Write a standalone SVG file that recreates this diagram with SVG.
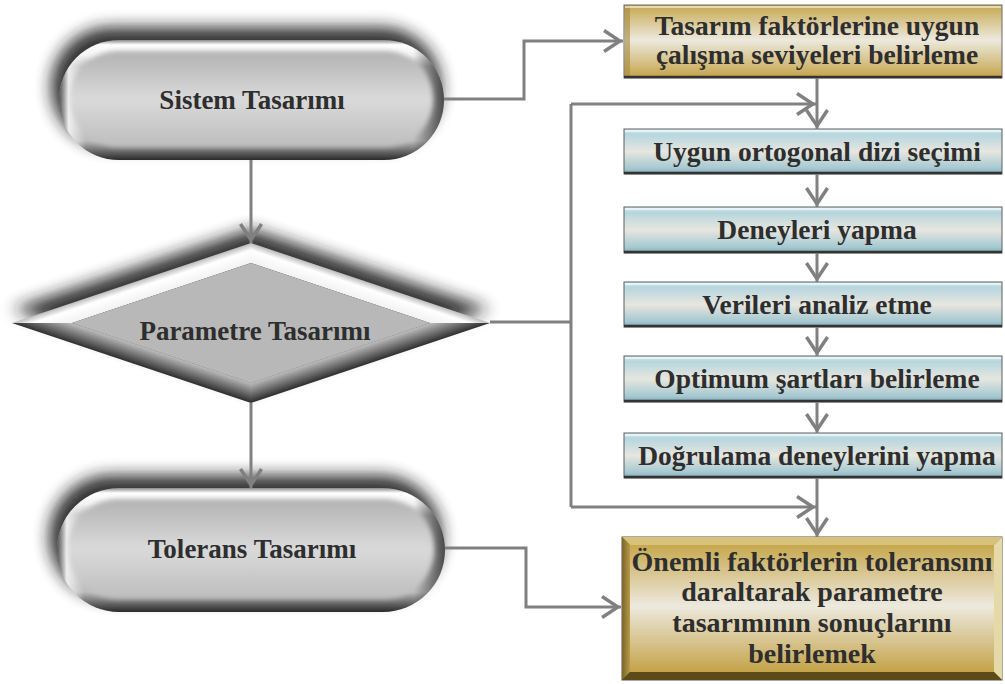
<svg xmlns="http://www.w3.org/2000/svg" width="1005" height="684" viewBox="0 0 1005 684">
<style>
.t{font-family:"Liberation Serif","Times New Roman",serif;font-weight:bold;fill:#2e2e2e;text-anchor:middle}
.c{fill:none;stroke:#808080;stroke-width:3}
.ca{fill:none;stroke:#808080;stroke-width:3;marker-end:url(#ah)}
.blue{fill:url(#blueG);stroke:#5e5e5e;stroke-width:1}
.bb{stroke:#333;stroke-width:2.5}
.hl{fill:#ffffff;opacity:.55}
</style>
<defs>
<marker id="ah" markerUnits="userSpaceOnUse" viewBox="-21 -13 22 26" refX="0" refY="0" markerWidth="22" markerHeight="26" orient="auto">
<path d="M0,0 L-18,-12 L-19.9,-9.1 L-6.25,0 L-19.9,9.1 L-18,12 Z" fill="#808080"/>
</marker>
<filter id="sh" x="-30%" y="-60%" width="160%" height="220%"><feGaussianBlur stdDeviation="8"/></filter>
<filter id="soft" x="-10%" y="-20%" width="120%" height="140%"><feGaussianBlur stdDeviation="2.5"/></filter>
<linearGradient id="pillOuter" x1="0" y1="0" x2="0" y2="1">
<stop offset="0" stop-color="#8a8a8a"/><stop offset=".04" stop-color="#ffffff"/><stop offset=".13" stop-color="#f2f2f2"/><stop offset=".22" stop-color="#bdbdbd"/><stop offset=".55" stop-color="#d4d4d4"/><stop offset=".84" stop-color="#bcbcbc"/><stop offset=".93" stop-color="#666"/><stop offset="1" stop-color="#2a2a2a"/>
</linearGradient>
<linearGradient id="pillEnds" x1="0" y1="0" x2="1" y2="0">
<stop offset="0" stop-color="#000" stop-opacity=".6"/><stop offset=".025" stop-color="#fff" stop-opacity=".7"/><stop offset=".07" stop-color="#fff" stop-opacity="0"/><stop offset=".92" stop-color="#000" stop-opacity="0"/><stop offset="1" stop-color="#000" stop-opacity=".65"/>
</linearGradient>
<linearGradient id="pillInner" x1="0" y1="0" x2="0" y2="1">
<stop offset="0" stop-color="#b2b2b2"/><stop offset=".5" stop-color="#dadada"/><stop offset="1" stop-color="#bdbdbd"/>
</linearGradient>
<linearGradient id="blueG" x1="0" y1="0" x2="0" y2="1">
<stop offset="0" stop-color="#d8ecf1"/><stop offset=".12" stop-color="#b6d6de"/><stop offset=".5" stop-color="#e7e6df"/><stop offset=".88" stop-color="#a4c8d1"/><stop offset="1" stop-color="#7fa6b0"/>
</linearGradient>
<linearGradient id="goldG" x1="0" y1="0" x2="0" y2="1">
<stop offset="0" stop-color="#c7a84f"/><stop offset=".48" stop-color="#ece9de"/><stop offset="1" stop-color="#c4a348"/>
</linearGradient>
<linearGradient id="goldL" x1="0" y1="0" x2="1" y2="0">
<stop offset="0" stop-color="#7a6428"/><stop offset="1" stop-color="#b79b48"/>
</linearGradient>
<linearGradient id="dBR" gradientUnits="userSpaceOnUse" x1="370.5" y1="363" x2="364.5" y2="345">
<stop offset="0" stop-color="#2e2e2e"/><stop offset="1" stop-color="#bdbdbd"/>
</linearGradient>
<linearGradient id="dBL" gradientUnits="userSpaceOnUse" x1="131.5" y1="363" x2="137.5" y2="345">
<stop offset="0" stop-color="#2e2e2e"/><stop offset="1" stop-color="#bdbdbd"/>
</linearGradient>
<linearGradient id="dTL" gradientUnits="userSpaceOnUse" x1="131.5" y1="283" x2="137.5" y2="301">
<stop offset="0" stop-color="#bbbbbb"/><stop offset=".35" stop-color="#ffffff"/><stop offset="1" stop-color="#f2f2f2"/>
</linearGradient>
<linearGradient id="dTR" gradientUnits="userSpaceOnUse" x1="370.5" y1="283" x2="364.5" y2="301">
<stop offset="0" stop-color="#bbbbbb"/><stop offset=".35" stop-color="#ffffff"/><stop offset="1" stop-color="#f2f2f2"/>
</linearGradient>
</defs>

<g id="n-sistem">
<rect x="51" y="27" width="390" height="120" rx="60" fill="#1e1e1e" opacity=".9" filter="url(#sh)"/>
<rect x="59" y="40" width="385" height="120" rx="60" fill="url(#pillOuter)"/>
<rect x="59" y="40" width="385" height="120" rx="60" fill="url(#pillEnds)"/>
<rect x="70" y="51" width="363" height="96" rx="48" fill="url(#pillInner)" filter="url(#soft)"/>
<text class="t" x="252" y="109" font-size="27">Sistem Tasarımı</text>
</g>

<g id="n-parametre">
<polygon points="12,309 251,229 490,309 251,389" fill="#1e1e1e" opacity=".9" filter="url(#sh)"/>
<polygon points="12,323 251,243 251,263 72,323" fill="url(#dTL)"/>
<polygon points="251,243 490,323 430,323 251,263" fill="url(#dTR)"/>
<polygon points="490,323 251,403 251,383 430,323" fill="url(#dBR)"/>
<polygon points="12,323 72,323 251,383 251,403" fill="url(#dBL)"/>
<polygon points="251,263 430,323 251,383 72,323" fill="#b8b8b8"/>
<text class="t" x="255" y="340" font-size="27">Parametre Tasarımı</text>
</g>

<g id="n-tolerans">
<rect x="49" y="475" width="393" height="124" rx="62" fill="#1e1e1e" opacity=".9" filter="url(#sh)"/>
<rect x="57" y="488" width="388" height="124" rx="62" fill="url(#pillOuter)"/>
<rect x="57" y="488" width="388" height="124" rx="62" fill="url(#pillEnds)"/>
<rect x="68" y="499" width="366" height="100" rx="50" fill="url(#pillInner)" filter="url(#soft)"/>
<text class="t" x="252" y="558" font-size="27">Tolerans Tasarımı</text>
</g>

<g id="n-tasarim">
<rect x="624" y="5" width="378" height="73" fill="url(#goldG)" stroke="#6b6b6b" stroke-width="1"/>
<rect x="625" y="6" width="5" height="71" fill="#a68a38" opacity=".6"/>
<rect x="625" y="6" width="376" height="2" class="hl"/>
<line x1="624" y1="77" x2="1002" y2="77" class="bb"/>
<text class="t" x="817" y="35" font-size="27.5">Tasarım faktörlerine uygun</text>
<text class="t" x="817" y="64" font-size="27.5">çalışma seviyeleri belirleme</text>
</g>

<g id="n-uygun">
<rect x="624" y="129" width="378" height="45" class="blue"/>
<rect x="625" y="130" width="376" height="2" class="hl"/>
<line x1="624" y1="173" x2="1002" y2="173" class="bb"/>
<text class="t" x="817" y="161" font-size="27.5">Uygun ortogonal dizi seçimi</text>
</g>

<g id="n-deneyleri">
<rect x="624" y="207" width="378" height="46" class="blue"/>
<rect x="625" y="208" width="376" height="2" class="hl"/>
<line x1="624" y1="252" x2="1002" y2="252" class="bb"/>
<text class="t" x="817" y="239" font-size="27.5">Deneyleri yapma</text>
</g>

<g id="n-verileri">
<rect x="624" y="282" width="378" height="45" class="blue"/>
<rect x="625" y="283" width="376" height="2" class="hl"/>
<line x1="624" y1="326" x2="1002" y2="326" class="bb"/>
<text class="t" x="817" y="314" font-size="27.5">Verileri analiz etme</text>
</g>

<g id="n-optimum">
<rect x="624" y="356" width="378" height="46" class="blue"/>
<rect x="625" y="357" width="376" height="2" class="hl"/>
<line x1="624" y1="401" x2="1002" y2="401" class="bb"/>
<text class="t" x="817" y="388" font-size="27.5">Optimum şartları belirleme</text>
</g>

<g id="n-dogrulama">
<rect x="624" y="433" width="378" height="45" class="blue"/>
<rect x="625" y="434" width="376" height="2" class="hl"/>
<line x1="624" y1="477" x2="1002" y2="477" class="bb"/>
<text class="t" x="817" y="465" font-size="27.5">Doğrulama deneylerini yapma</text>
</g>

<g id="n-onemli">
<rect x="622" y="537" width="380" height="143" fill="#8c7530" stroke="#555" stroke-width="1"/>
<polygon points="622,537 1002,537 994,545 630,545" fill="#d8c27a"/>
<polygon points="622,537 630,545 630,672 622,680" fill="url(#goldL)"/>
<polygon points="1002,537 1002,680 994,672 994,545" fill="#e6d9a8"/>
<polygon points="622,680 630,672 994,672 1002,680" fill="#5c4a18"/>
<rect x="630" y="545" width="364" height="127" fill="url(#goldG)"/>
<text class="t" x="812" y="571" font-size="28">Önemli faktörlerin toleransını</text>
<text class="t" x="812" y="601" font-size="28">daraltarak parametre</text>
<text class="t" x="812" y="632" font-size="28">tasarımının sonuçlarını</text>
<text class="t" x="812" y="663" font-size="28">belirlemek</text>
</g>

<g id="connectors">
<path class="ca" d="M444,99 H524 V41 H623"/>
<path class="ca" d="M251,160 V243"/>
<path class="ca" d="M251,403 V488"/>
<path class="ca" d="M445,548 H526 V607 H621"/>
<path class="c" d="M490,322 H571"/>
<path class="c" d="M571,104 V507"/>
<path class="ca" d="M571,104 H816"/>
<path class="ca" d="M571,507 H816"/>
<path class="ca" d="M817,78 V129"/>
<path class="ca" d="M817,174 V207"/>
<path class="ca" d="M817,253 V282"/>
<path class="ca" d="M817,327 V356"/>
<path class="ca" d="M817,402 V433"/>
<path class="ca" d="M817,478 V537"/>
</g>
</svg>
